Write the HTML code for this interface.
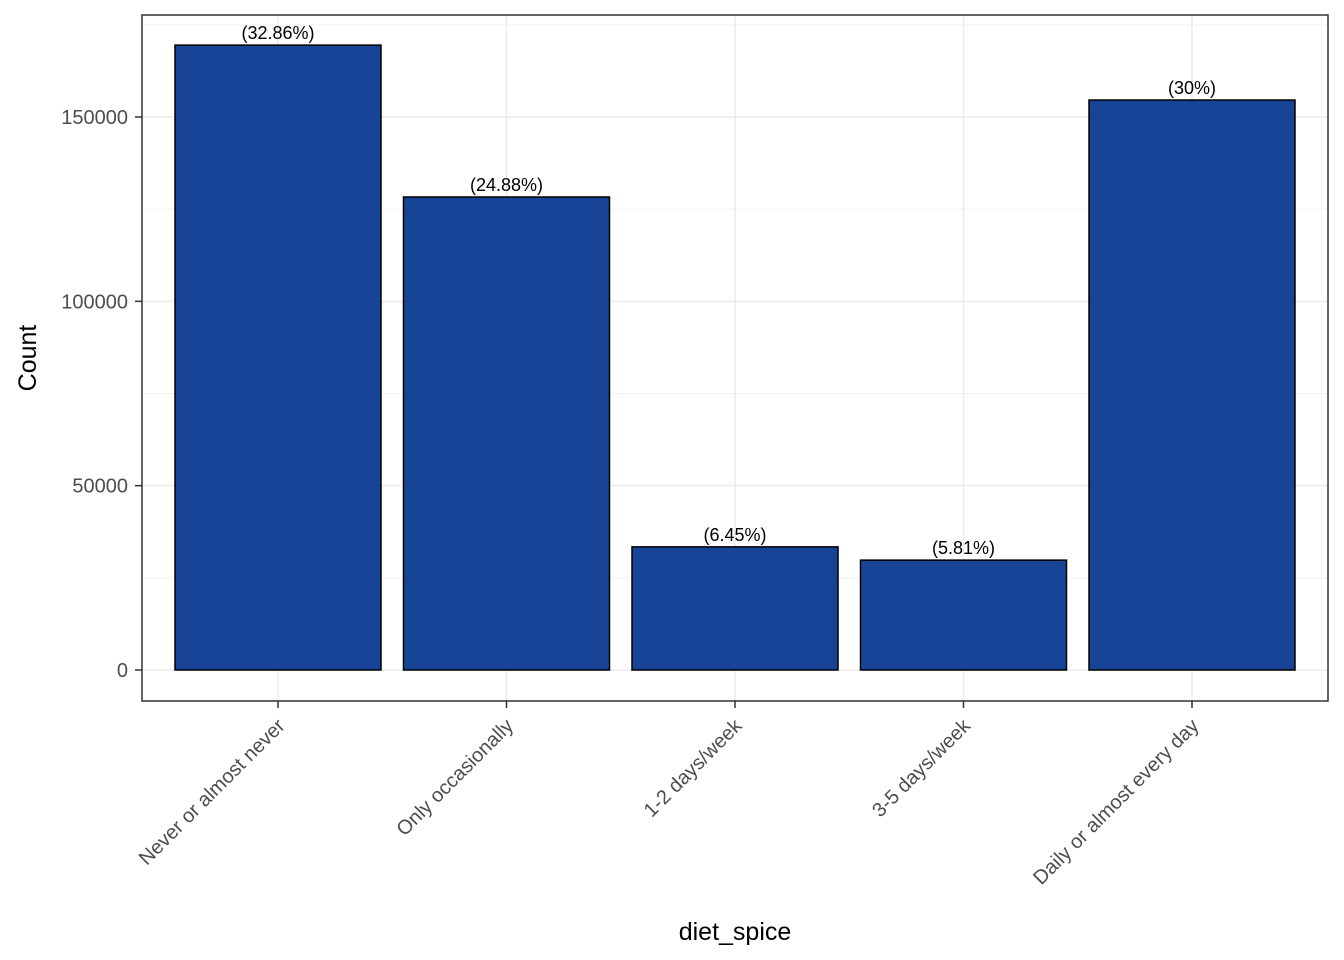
<!DOCTYPE html>
<html><head><meta charset="utf-8"><style>
html,body{margin:0;padding:0;background:#fff;}
svg{display:block;font-family:"Liberation Sans",Arial,sans-serif;}
</style></head><body>
<svg id="chart" width="1344" height="960" xmlns="http://www.w3.org/2000/svg"></svg>
<script>
const categories = ["Never or almost never","Only occasionally","1-2 days/week","3-5 days/week","Daily or almost every day"];
const counts = [169500, 128300, 33400, 29800, 154600];
const pctLabels = ["(32.86%)","(24.88%)","(6.45%)","(5.81%)","(30%)"];
const yTicks = [0, 50000, 100000, 150000];
const yMinor = [25000, 75000, 125000, 175000];

const svg = document.getElementById('chart');
const NS = 'http://www.w3.org/2000/svg';
const P = {l:142, r:1328, t:15, b:701};
const y = v => 670 - v * (553/150000);
const step = 228.5, x0 = 278;
const x = i => x0 + i*step;
const bw = 206;
function mk(tag, attrs, parent){const e=document.createElementNS(NS,tag);for(const k in attrs)e.setAttribute(k,attrs[k]);(parent||svg).appendChild(e);return e;}

const grid = mk('g',{});


yMinor.forEach(v=>{ if(y(v)>P.t){const l=mk('line',{x1:P.l,x2:P.r,y1:y(v),y2:y(v),stroke:'#f2f2f2','stroke-width':1},grid);

}});
yTicks.forEach(v=>{const l=mk('line',{x1:P.l,x2:P.r,y1:y(v),y2:y(v),stroke:'#ebebeb','stroke-width':1.5},grid);

});
categories.forEach((c,i)=>{const l=mk('line',{x1:x(i),x2:x(i),y1:P.t,y2:P.b,stroke:'#ebebeb','stroke-width':1.5},grid);

});

categories.forEach((c,i)=>{
  const r=mk('rect',{x:x(i)-bw/2,y:y(counts[i]),width:bw,height:y(0)-y(counts[i]),fill:'#184497',stroke:'#000','stroke-width':1.5});
  
  
  const t=mk('text',{x:x(i),y:y(counts[i])-6,'text-anchor':'middle','font-size':18,fill:'#000'});
  t.textContent=pctLabels[i];
  
  
  const tk=mk('line',{x1:x(i),x2:x(i),y1:P.b,y2:P.b+7,stroke:'#333','stroke-width':1.5});
  
  
  const lt=mk('text',{x:0,y:0,'text-anchor':'end','font-size':20,fill:'#4d4d4d',transform:`translate(${x(i)+8},${P.b+26}) rotate(-45)`});
  lt.textContent=c;
  
  
});

yTicks.forEach(v=>{
  const tk=mk('line',{x1:P.l-7,x2:P.l,y1:y(v),y2:y(v),stroke:'#333','stroke-width':1.5});
  
  
  const t=mk('text',{x:P.l-14,y:y(v)+7,'text-anchor':'end','font-size':20,fill:'#4d4d4d'});
  t.textContent=String(v);
  
  
});

const frame=mk('rect',{x:P.l,y:P.t,width:P.r-P.l,height:P.b-P.t,fill:'none',stroke:'#333','stroke-width':1.5});



const yt=mk('text',{x:0,y:0,'text-anchor':'middle','font-size':25,fill:'#000',transform:'translate(36,358) rotate(-90)'});
yt.textContent='Count';


const xt=mk('text',{x:735,y:940,'text-anchor':'middle','font-size':25,fill:'#000'});
xt.textContent='diet_spice';


</script>
</body></html>
